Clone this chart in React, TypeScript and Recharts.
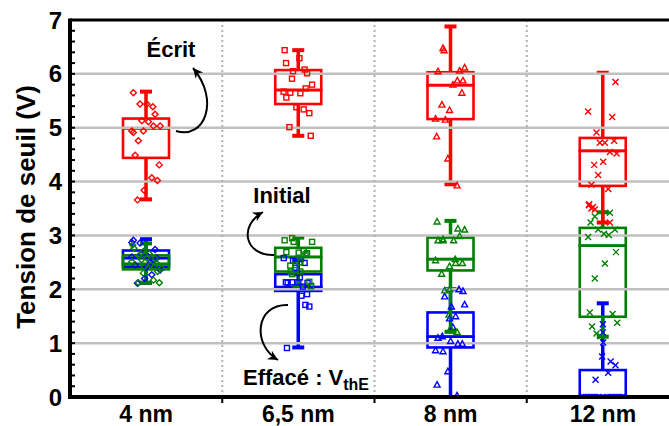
import React from 'react';
import { ComposedChart, Bar, Scatter, XAxis, YAxis, ReferenceLine } from 'recharts';

const categories = ['4 nm', '6,5 nm', '8 nm', '12 nm'];
const yMajorTicks = [1, 2, 3, 4, 5, 6];
const yTicks = [0, 0.2, 0.4, 0.6, 0.8, 1, 1.2, 1.4, 1.6, 1.8, 2, 2.2, 2.4, 2.6, 2.8, 3, 3.2, 3.4, 3.6, 3.8, 4, 4.2, 4.4, 4.6, 4.8, 5, 5.2, 5.4, 5.6, 5.8, 6, 6.2, 6.4, 6.6, 6.8, 7];
const xTicks = [0.5, 1, 1.5, 2, 2.5, 3, 3.5];
const boundaries = [1, 2, 3];

const RED = '#ff0000';
const GREEN = '#008000';
const BLUE = '#0000ff';

// Box statistics (Écrit = red, Initial = green, Effacé = blue)
const redMin = [3.67, 4.85, 3.95, 3.24];
const redQ1 = [4.44, 5.44, 5.16, 3.92];
const redMed = [4.99, 5.7, 5.79, 4.57];
const redQ3 = [5.17, 6.07, 6.03, 4.81];
const redMax = [5.67, 6.44, 6.88, 6.02];

const greenMin = [2.12, 2.06, 1.21, 1.12];
const greenQ1 = [2.37, 2.33, 2.35, 1.49];
const greenMed = [2.47, 2.6, 2.56, 2.81];
const greenQ3 = [2.63, 2.77, 2.96, 3.14];
const greenMax = [2.85, 2.96, 3.27, 3.43];

const blueMin = [2.12, 0.92, 0, 0];
const blueQ1 = [2.42, 1.97, 0.92, 0];
const blueMed = [2.58, 2.04, 1.12, 0.02];
const blueQ3 = [2.72, 2.28, 1.57, 0.5];
const blueMax = [2.93, 2.54, 2.0, 1.74];

// Individual points: [jitter (fraction of category width), value]
const red4 = [[-0.084, 5.65], [-0.04, 5.44], [0.005, 5.44], [0.044, 5.39], [0.059, 5.25], [-0.028, 5.13], [0.015, 5.11], [0.048, 5.03], [0.092, 5.03], [-0.094, 4.94], [-0.084, 4.91], [-0.018, 4.94], [-0.051, 4.76], [-0.072, 4.49], [0.086, 4.31], [0.037, 4.07], [0.074, 4.02], [-0.013, 3.84], [-0.057, 3.66]];
const red65 = [[-0.09, 6.44], [0.007, 6.29], [-0.081, 6.2], [-0.035, 6.05], [0.041, 6.08], [0.057, 6.01], [-0.042, 5.91], [0.09, 5.8], [0.048, 5.73], [-0.097, 5.67], [-0.053, 5.65], [0.013, 5.64], [-0.079, 5.56], [-0.013, 5.38], [0.035, 5.34], [0.072, 5.27], [-0.059, 5.01], [0.081, 4.85]];
const red8 = [[-0.05, 6.47], [-0.043, 6.43], [-0.083, 6.04], [0.059, 6.05], [0.092, 6.11], [0.015, 5.79], [0.044, 5.87], [0.081, 5.87], [0.074, 5.64], [-0.057, 5.42], [-0.007, 5.32], [-0.099, 5.16], [-0.035, 5.14], [-0.092, 4.83], [-0.018, 4.42], [0.042, 3.92]];
const red12 = [[0.083, 5.85], [-0.097, 5.3], [0.061, 5.2], [-0.042, 4.91], [-0.02, 4.72], [0.013, 4.72], [0.074, 4.76], [0.046, 4.55], [0.09, 4.52], [0.002, 4.37], [-0.057, 4.31], [-0.031, 4.12], [-0.075, 3.94], [0.035, 3.86], [-0.09, 3.58], [-0.075, 3.5], [-0.053, 3.48], [-0.092, 3.56], [0.046, 3.24], [-0.065, 3.53]];

const green4 = [[-0.088, 2.82], [-0.08, 2.76], [-0.018, 2.7], [-0.05, 2.62], [0.005, 2.58], [0.06, 2.57], [-0.094, 2.51], [-0.013, 2.42], [0.1, 2.39], [-0.018, 2.3], [0.048, 2.17], [-0.051, 2.12], [0.087, 2.12], [0.03, 2.45], [0.07, 2.48], [-0.03, 2.55], [0.02, 2.66], [0.075, 2.33]];
const green65 = [[-0.09, 2.91], [-0.041, 2.95], [-0.031, 2.88], [0.09, 2.88], [0.035, 2.71], [0.002, 2.68], [0.057, 2.67], [-0.079, 2.69], [-0.053, 2.44], [-0.05, 2.33], [0.013, 2.33], [-0.041, 2.28], [0.072, 2.14], [0.083, 2.06], [0.013, 2.5], [0.047, 2.65], [-0.02, 2.45]];
const green8 = [[-0.089, 3.25], [0.048, 3.12], [0.092, 3.1], [0.059, 2.98], [-0.083, 2.9], [-0.05, 2.9], [0.02, 2.9], [-0.099, 2.53], [-0.007, 2.42], [0.033, 2.48], [0.077, 2.48], [-0.059, 2.28], [-0.039, 1.97], [-0.007, 1.99], [-0.011, 1.52], [0.042, 1.2], [0.0, 1.27], [-0.05, 2.92], [0.03, 2.55]];
const green12 = [[0.046, 3.42], [-0.053, 3.35], [-0.081, 3.24], [-0.031, 3.11], [0.007, 3.03], [0.039, 3.01], [0.079, 3.11], [-0.097, 2.97], [0.086, 2.69], [0.013, 2.48], [-0.053, 2.2], [-0.086, 1.57], [0.064, 1.54], [0.094, 1.38], [-0.071, 1.31], [-0.042, 1.18], [-0.015, 1.13]];

const blue4 = [[-0.084, 2.91], [-0.094, 2.87], [-0.04, 2.86], [0.059, 2.74], [-0.094, 2.6], [-0.03, 2.65], [0.01, 2.62], [0.048, 2.54], [-0.072, 2.45], [0.092, 2.36], [0.037, 2.27], [-0.057, 2.11], [0.0, 2.41], [0.07, 2.58], [-0.01, 2.2], [0.03, 2.5]];
const blue65 = [[-0.096, 2.58], [-0.035, 2.53], [0.041, 2.49], [-0.009, 2.3], [-0.082, 2.13], [-0.041, 2.13], [0.0, 2.13], [0.083, 2.06], [0.02, 1.88], [0.057, 1.91], [0.046, 1.71], [0.072, 1.68], [-0.075, 0.91], [-0.07, 2.12], [0.03, 2.05], [0.06, 2.12], [-0.02, 2.4], [0.01, 2.22]];
const blue8 = [[0.055, 1.99], [0.081, 1.96], [-0.039, 1.86], [0.092, 1.71], [0.005, 1.67], [0.033, 1.49], [-0.007, 1.45], [0.015, 1.29], [-0.055, 1.12], [-0.083, 1.09], [0.0, 1.03], [0.048, 0.98], [0.077, 0.98], [-0.099, 0.86], [-0.05, 0.84], [-0.018, 0.47], [-0.089, 0.22], [0.042, 0.02]];
const blue12 = [[0.002, 1.01], [-0.005, 0.75], [0.051, 0.66], [0.083, 0.59], [0.035, 0.45], [-0.048, 0.32], [0.0, 1.2], [0.0, 1.35], [-0.13, 0], [-0.11, 0], [-0.09, 0], [-0.07, 0], [-0.05, 0], [-0.03, 0], [0.03, 0], [0.05, 0], [0.07, 0], [0.09, 0], [0.11, 0], [0.13, 0]];

const FONT = '"Liberation Sans", Arial, sans-serif';

// Plot frame geometry (matches the chart margins below)
const CHART_W = 690;
const CHART_H = 426;
const MARGIN = { top: 20, right: 11, bottom: 0, left: 0 };
const Y_AXIS_W = 70;
const X_AXIS_H = 29;
const PLOT_L = MARGIN.left + Y_AXIS_W;
const PLOT_R = CHART_W - MARGIN.right;
const PLOT_T = MARGIN.top;
const PLOT_B = CHART_H - MARGIN.bottom - X_AXIS_H;
const Y_MAX = 7;
const X_MAX = 4;
const yPix = (v: number) => PLOT_B - ((PLOT_B - PLOT_T) * v) / Y_MAX;
const xPix = (v: number) => PLOT_L + ((PLOT_R - PLOT_L) * v) / X_MAX;

const series = [
  { key: 'b', color: BLUE, min: blueMin, q1: blueQ1, med: blueMed, q3: blueQ3, max: blueMax, pts: [blue4, blue65, blue8, blue12] },
  { key: 'g', color: GREEN, min: greenMin, q1: greenQ1, med: greenMed, q3: greenQ3, max: greenMax, pts: [green4, green65, green8, green12] },
  { key: 'r', color: RED, min: redMin, q1: redQ1, med: redMed, q3: redQ3, max: redMax, pts: [red4, red65, red8, red12] },
];

const table = categories.map((cat, i) => {
  const row: any = { cat };
  series.forEach((s) => {
    row[s.key + '_base'] = s.min[i];
    row[s.key + '_lw'] = s.q1[i] - s.min[i];
    row[s.key + '_lb'] = s.med[i] - s.q1[i];
    row[s.key + '_hb'] = s.q3[i] - s.med[i];
    row[s.key + '_hw'] = s.max[i] - s.q3[i];
  });
  return row;
});

const pointData = (pts: number[][][]) =>
  pts.flatMap((list, c) => list.map(([j, v]) => ({ x: c + 0.5 + j, y: v, c })));

const Empty = () => <g />;

const lowWhisker = (color: string) => (p: any) => {
  const { x, y, width, height } = p;
  if (!(height > 0.5)) return <g />;
  const cx = x + width / 2;
  return (
    <g>
      <line x1={cx} x2={cx} y1={y} y2={y + height} stroke={color} strokeWidth={3.5} />
      <line x1={cx - 6} x2={cx + 6} y1={y + height} y2={y + height} stroke={color} strokeWidth={4} />
    </g>
  );
};
const highWhisker = (color: string) => (p: any) => {
  const { x, y, width, height } = p;
  if (!(height > 0.5)) return <g />;
  const cx = x + width / 2;
  return (
    <g>
      <line x1={cx} x2={cx} y1={y} y2={y + height} stroke={color} strokeWidth={3.5} />
      <line x1={cx - 6} x2={cx + 6} y1={y} y2={y} stroke={color} strokeWidth={4} />
    </g>
  );
};
const boxPart = (color: string) => (p: any) => {
  const { x, y, width, height } = p;
  return <rect x={x} y={y} width={width} height={Math.max(0, height || 0)} fill="none" stroke={color} strokeWidth={2.6} />;
};

const marker = (color: string) => (p: any) => {
  const { cx, cy, payload } = p;
  const c = payload.c;
  const sw = 1.4;
  if (c === 0) {
    const r = 3;
    return <polygon points={`${cx},${cy - r} ${cx + r},${cy} ${cx},${cy + r} ${cx - r},${cy}`} fill="none" stroke={color} strokeWidth={sw} />;
  }
  if (c === 1) {
    return <rect x={cx - 2.5} y={cy - 2.5} width={5} height={5} fill="none" stroke={color} strokeWidth={sw} />;
  }
  if (c === 2) {
    return <polygon points={`${cx},${cy - 3.5} ${cx + 3},${cy + 2} ${cx - 3},${cy + 2}`} fill="none" stroke={color} strokeWidth={sw} />;
  }
  return (
    <g stroke={color} strokeWidth={sw}>
      <line x1={cx - 3} y1={cy - 3} x2={cx + 3} y2={cy + 3} />
      <line x1={cx - 3} y1={cy + 3} x2={cx + 3} y2={cy - 3} />
    </g>
  );
};

const YTick = (p: any) => {
  const { x, y, payload } = p;
  const v = payload.value;
  const isMajor = Math.abs(v - Math.round(v)) < 1e-6;
  if (!isMajor) return <g />;
  return (
    <text x={x} y={y} dy="0.36em" textAnchor="end" fontFamily={FONT} fontWeight="bold" fontSize={24} fill="#000">
      {Math.round(v)}
    </text>
  );
};

const XTick = (p: any) => {
  const { x, y, payload } = p;
  const v = payload.value;
  if (Math.abs(v - Math.round(v)) < 1e-6) return <g />;
  const label = categories[Math.floor(v)];
  return (
    <text x={x} y={y} dy={25} textAnchor="middle" fontFamily={FONT} fontWeight="bold" fontSize={23} fill="#000">
      {label}
    </text>
  );
};

export default function App() {
  return (
    <div style={{ position: 'absolute', left: 0, top: 0, width: 669, height: 426, overflow: 'hidden', background: '#fff' }}>
      <ComposedChart
        width={CHART_W}
        height={CHART_H}
        data={table}
        margin={MARGIN}
        barSize={46}
        barGap={-46}
        barCategoryGap={0}
      >
        <XAxis
          xAxisId="num"
          dataKey="x"
          type="number"
          domain={[0, X_MAX]}
          allowDataOverflow
          ticks={xTicks}
          tick={<XTick />}
          tickLine={false}
          tickSize={0}
          tickMargin={0}
          height={X_AXIS_H}
          interval={0}
          axisLine={false}
        />
        <XAxis xAxisId="cat" dataKey="cat" type="category" hide height={0} />
        <YAxis
          type="number"
          domain={[0, Y_MAX]}
          allowDataOverflow
          ticks={yTicks}
          tick={<YTick />}
          tickLine={false}
          tickSize={0}
          tickMargin={8}
          interval={0}
          width={Y_AXIS_W}
          axisLine={false}
        />
        {yMajorTicks.map((v) => (
          <ReferenceLine key={'h' + v} xAxisId="num" y={v} stroke="#c0c0c0" strokeWidth={2.5} />
        ))}
        {boundaries.map((v) => (
          <ReferenceLine key={'v' + v} xAxisId="num" x={v} stroke="#b0b0b0" strokeWidth={2} strokeDasharray="2 3" />
        ))}
        {series.flatMap((s) => [
          <Bar key={s.key + 'base'} xAxisId="cat" dataKey={s.key + '_base'} stackId={s.key} shape={Empty} isAnimationActive={false} />,
          <Bar key={s.key + 'lw'} xAxisId="cat" dataKey={s.key + '_lw'} stackId={s.key} shape={lowWhisker(s.color)} isAnimationActive={false} />,
          <Bar key={s.key + 'lb'} xAxisId="cat" dataKey={s.key + '_lb'} stackId={s.key} shape={boxPart(s.color)} isAnimationActive={false} />,
          <Bar key={s.key + 'hb'} xAxisId="cat" dataKey={s.key + '_hb'} stackId={s.key} shape={boxPart(s.color)} isAnimationActive={false} />,
          <Bar key={s.key + 'hw'} xAxisId="cat" dataKey={s.key + '_hw'} stackId={s.key} shape={highWhisker(s.color)} isAnimationActive={false} />,
        ])}
        {series.map((s) => (
          <Scatter key={s.key + 'pts'} xAxisId="num" data={pointData(s.pts)} dataKey="y" shape={marker(s.color)} isAnimationActive={false} />
        ))}
      </ComposedChart>
      <svg width={669} height={426} style={{ position: 'absolute', left: 0, top: 0, pointerEvents: 'none' }}>
        <defs>
          <marker id="ah" markerUnits="userSpaceOnUse" markerWidth={12} markerHeight={12} refX={10} refY={5} orient="auto">
            <path d="M0,0 L10,5 L0,10 L3,5 z" fill="#000" />
          </marker>
        </defs>
        {/* axis frame as filled bands */}
        <rect x={PLOT_L} y={PLOT_T - 1.5} width={PLOT_R - PLOT_L} height={3} fill="#000" />
        <rect x={PLOT_L - 2} y={PLOT_T - 1.5} width={4} height={PLOT_B - PLOT_T + 3.5} fill="#000" />
        <rect x={PLOT_L - 2} y={PLOT_B - 2} width={PLOT_R - PLOT_L + 2} height={4} fill="#000" />
        {yTicks.map((v) => (
          <rect key={'mt' + v} x={PLOT_L} y={yPix(v) - 1} width={5} height={2} fill="#000" />
        ))}
        {boundaries.map((v) => (
          <rect key={'bt' + v} x={xPix(v) - 1} y={PLOT_B} width={2} height={6} fill="#000" />
        ))}
        <text transform="translate(35,207) rotate(-90)" textAnchor="middle" fontFamily={FONT} fontWeight="bold" fontSize={26} fill="#000">
          Tension de seuil (V)
        </text>
        <text x={171} y={57} textAnchor="middle" fontFamily={FONT} fontWeight="bold" fontSize={22} fill="#000">Écrit</text>
        <text x={282} y={203} textAnchor="middle" fontFamily={FONT} fontWeight="bold" fontSize={22} fill="#000">Initial</text>
        <text x={243} y={385} fontFamily={FONT} fontWeight="bold" fontSize={22} fill="#000">
          Effacé : V<tspan fontSize={16} dy={5}>thE</tspan>
        </text>
        <path d="M176,131 C205,140 220,100 193,68" fill="none" stroke="#000" strokeWidth={2} markerEnd="url(#ah)" />
        <path d="M274,255 C245,256 238,226 263,212" fill="none" stroke="#000" strokeWidth={2} markerEnd="url(#ah)" />
        <path d="M288,305 C255,304 252,345 278,360" fill="none" stroke="#000" strokeWidth={2} markerEnd="url(#ah)" />
      </svg>
    </div>
  );
}
